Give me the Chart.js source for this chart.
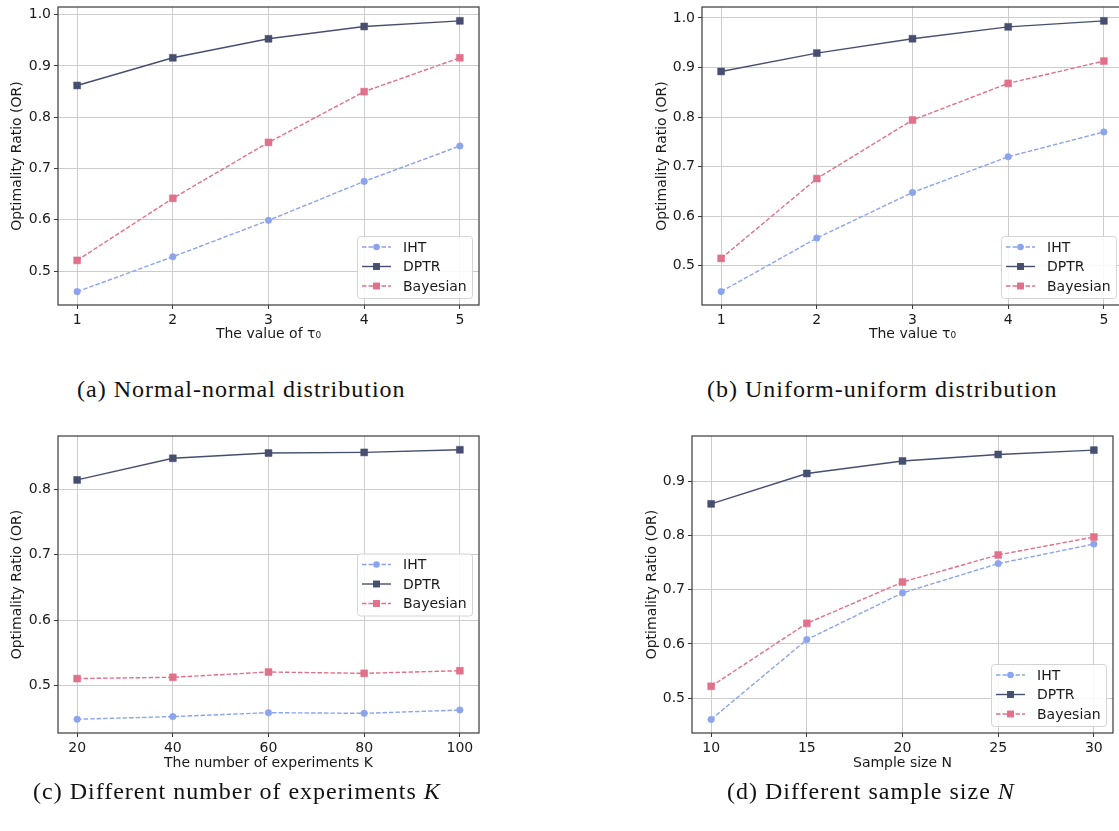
<!DOCTYPE html>
<html>
<head>
<meta charset="utf-8">
<script src="https://cdn.jsdelivr.net/npm/chart.js@4/dist/chart.umd.min.js"></script>
<style>
  html, body { margin: 0; padding: 0; background: #fff; overflow: hidden; width: 1119px; height: 831px; }
  canvas { position: absolute; }
  .cap { position: absolute; font-family: "Liberation Serif", serif; font-size: 24px; letter-spacing: 1px;
         color: #111; white-space: nowrap; line-height: 1; }
</style>
</head>
<body>
<canvas id="chartA" width="490" height="350" style="left:0px;top:0px"></canvas>
<canvas id="chartB" width="510" height="350" style="left:620px;top:0px"></canvas>
<canvas id="chartC" width="490" height="360" style="left:0px;top:420px"></canvas>
<canvas id="chartD" width="510" height="360" style="left:620px;top:420px"></canvas>

<div class="cap" style="left:77px;top:377px">(a) Normal-normal distribution</div>
<div class="cap" style="left:707px;top:377px">(b) Uniform-uniform distribution</div>
<div class="cap" style="left:33px;top:779px">(c) Different number of experiments <i>K</i></div>
<div class="cap" style="left:727px;top:779px">(d) Different sample size <i>N</i></div>

<script>
// x values
const tauValues = [1, 2, 3, 4, 5];
const expCounts = [20, 40, 60, 80, 100];
const sampleSizes = [10, 15, 20, 25, 30];

// (a) normal-normal
const ihtNormal = [0.460, 0.528, 0.599, 0.675, 0.744];
const dptrNormal = [0.862, 0.916, 0.953, 0.977, 0.988];
const bayesNormal = [0.521, 0.642, 0.751, 0.850, 0.916];

// (b) uniform-uniform
const ihtUniform = [0.448, 0.556, 0.648, 0.720, 0.770];
const dptrUniform = [0.892, 0.929, 0.958, 0.982, 0.994];
const bayesUniform = [0.515, 0.676, 0.794, 0.868, 0.913];

// (c) number of experiments K
const ihtK = [0.449, 0.453, 0.459, 0.458, 0.463];
const dptrK = [0.814, 0.847, 0.855, 0.856, 0.860];
const bayesK = [0.511, 0.513, 0.521, 0.519, 0.523];

// (d) sample size N
const ihtN = [0.461, 0.608, 0.694, 0.748, 0.784];
const dptrN = [0.858, 0.914, 0.937, 0.949, 0.957];
const bayesN = [0.522, 0.638, 0.714, 0.764, 0.797];

// tick labels
const yTicksAB = [0.5, 0.6, 0.7, 0.8, 0.9, 1.0];
const yTicksC = [0.5, 0.6, 0.7, 0.8];
const yTicksD = [0.5, 0.6, 0.7, 0.8, 0.9];

const seriesNames = ["IHT", "DPTR", "Bayesian"];

const C_IHT = "#8ca4ec";
const C_DPTR = "#474f70";
const C_BAYES = "#e1708a";
const FONT = { family: "DejaVu Sans", size: 14 };
const TEXT = "#1a1a1a";

// box legend + frame drawn over the plot area
const frameLegend = {
  id: "frameLegend",
  afterDatasetsDraw(chart, args, opts) {
    const { ctx, chartArea } = chart;
    ctx.save();
    ctx.strokeStyle = "#3a3a3a";
    ctx.lineWidth = 1.2;
    ctx.strokeRect(chartArea.left, chartArea.top, chartArea.right - chartArea.left, chartArea.bottom - chartArea.top);

    const w = 115, h = 62;
    const x = chartArea.right - 7 - w;
    const y = opts.place === "center right"
      ? (chartArea.top + chartArea.bottom) / 2 - h / 2
      : chartArea.bottom - 7 - h;
    ctx.beginPath();
    ctx.roundRect(x + 0.5, y + 0.5, w, h, 3);
    ctx.fillStyle = "rgba(255,255,255,0.85)";
    ctx.fill();
    ctx.strokeStyle = "#d4d4d4";
    ctx.lineWidth = 1;
    ctx.stroke();

    ctx.font = '14px "DejaVu Sans"';
    ctx.textBaseline = "middle";
    chart.data.datasets.forEach((ds, i) => {
      const cy = y + 11 + i * 19.5;
      ctx.strokeStyle = ds.borderColor;
      ctx.lineWidth = ds.borderWidth;
      ctx.setLineDash(ds.borderDash || []);
      ctx.beginPath();
      ctx.moveTo(x + 5, cy);
      ctx.lineTo(x + 34, cy);
      ctx.stroke();
      ctx.setLineDash([]);
      ctx.fillStyle = ds.borderColor;
      const mx = x + 19.5;
      if (ds.pointStyle === "circle") {
        ctx.beginPath();
        ctx.arc(mx, cy, ds.pointRadius, 0, Math.PI * 2);
        ctx.fill();
      } else {
        const s = ds.pointRadius * Math.SQRT1_2;
        ctx.fillRect(mx - s, cy - s, 2 * s, 2 * s);
      }
      ctx.fillStyle = TEXT;
      ctx.fillText(ds.label, x + 46, cy + 1);
    });
    ctx.restore();
  }
};

function makeSets(xs, iht, dptr, bayes) {
  const pts = (arr) => arr.map((v, i) => ({ x: xs[i], y: v }));
  const base = (label, col, vals, style, r, dash, order) => ({
    label: label,
    data: pts(vals),
    borderColor: col,
    backgroundColor: col,
    pointBackgroundColor: col,
    pointBorderColor: col,
    pointBorderWidth: 0.5,
    pointStyle: style,
    pointRadius: r,
    borderWidth: 1.4,
    borderDash: dash,
    tension: 0,
    order: order
  });
  return [
    base(seriesNames[0], C_IHT, iht, "circle", 3.3, [4.5, 2], 2),
    base(seriesNames[1], C_DPTR, dptr, "rect", 4.9, [], 1),
    base(seriesNames[2], C_BAYES, bayes, "rect", 4.9, [4.5, 2], 0)
  ];
}

function makeChart(p) {
  const [cx, cy, cw, ch] = p.canvas;
  const [ax0, ay0, ax1, ay1] = p.area;
  const lh = FONT.size * 1.2;
  new Chart(document.getElementById(p.id), {
    type: "line",
    data: { datasets: makeSets(p.xs, p.iht, p.dptr, p.bayes) },
    options: {
      responsive: false,
      animation: false,
      events: [],
      layout: { padding: { left: 0, top: ay0 - cy, right: cx + cw - ax1, bottom: 0 } },
      plugins: { legend: { display: false }, tooltip: { enabled: false }, frameLegend: { place: p.legend } },
      scales: {
        x: {
          type: "linear",
          min: p.xlim[0],
          max: p.xlim[1],
          afterBuildTicks: (s) => { s.ticks = p.xs.map((v) => ({ value: v })); },
          afterFit: (s) => { s.height = cy + ch - ay1; s.paddingLeft = 0; s.paddingRight = 0; },
          ticks: { font: FONT, color: TEXT, padding: 3, maxRotation: 0, autoSkip: false, callback: (v) => String(v) },
          grid: { color: "#cccccc", lineWidth: 1, tickLength: 4, tickColor: "#3a3a3a" },
          border: { display: false },
          title: { display: true, text: p.xTitle, font: FONT, color: TEXT,
                   padding: { top: 0, bottom: cy + ch - p.xTitleY - lh / 2 } }
        },
        y: {
          type: "linear",
          min: p.ylim[0],
          max: p.ylim[1],
          afterBuildTicks: (s) => { s.ticks = p.yTicks.map((v) => ({ value: v })); },
          afterFit: (s) => { s.width = ax0 - cx; s.paddingTop = 0; s.paddingBottom = 0; },
          ticks: { font: FONT, color: TEXT, padding: 3, autoSkip: false, callback: (v) => v.toFixed(1) },
          grid: { color: "#cccccc", lineWidth: 1, tickLength: 4, tickColor: "#3a3a3a" },
          border: { display: false },
          title: { display: true, text: "Optimality Ratio (OR)", font: FONT, color: TEXT,
                   padding: { top: p.yTitleX - cx - lh / 2, bottom: 0 } }
        }
      }
    },
    plugins: [frameLegend]
  });
}

makeChart({ id: "chartA", canvas: [0, 0, 490, 350], area: [58, 7, 479, 305], yTitleX: 17, xTitleY: 334,
  xs: tauValues, iht: ihtNormal, dptr: dptrNormal, bayes: bayesNormal,
  xlim: [0.8, 5.2], ylim: [0.434, 1.015], yTicks: yTicksAB, xTitle: "The value of τ₀", legend: "lower right" });

makeChart({ id: "chartB", canvas: [620, 0, 510, 350], area: [702, 7, 1123, 305], yTitleX: 662, xTitleY: 334,
  xs: tauValues, iht: ihtUniform, dptr: dptrUniform, bayes: bayesUniform,
  xlim: [0.8, 5.2], ylim: [0.421, 1.022], yTicks: yTicksAB, xTitle: "The value τ₀", legend: "lower right" });

makeChart({ id: "chartC", canvas: [0, 420, 490, 360], area: [58, 436, 479, 733], yTitleX: 17, xTitleY: 763,
  xs: expCounts, iht: ihtK, dptr: dptrK, bayes: bayesK,
  xlim: [16, 104], ylim: [0.428, 0.881], yTicks: yTicksC, xTitle: "The number of experiments K", legend: "center right" });

makeChart({ id: "chartD", canvas: [620, 420, 510, 360], area: [692, 436, 1113, 733], yTitleX: 652, xTitleY: 763,
  xs: sampleSizes, iht: ihtN, dptr: dptrN, bayes: bayesN,
  xlim: [9, 31], ylim: [0.436, 0.983], yTicks: yTicksD, xTitle: "Sample size N", legend: "lower right" });
</script>
</body>
</html>
